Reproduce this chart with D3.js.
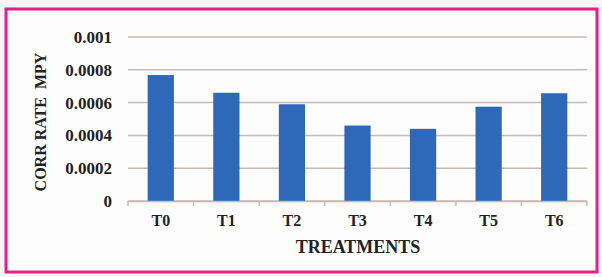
<!DOCTYPE html>
<html>
<head>
<meta charset="utf-8">
<script src="https://cdn.jsdelivr.net/npm/d3@7"></script>
<style>
 body { margin:0; background:#f7f7f7; }
 svg text { font-family: "Liberation Serif", "DejaVu Serif", serif; font-weight:bold; fill:#222; }
</style>
</head>
<body>
<div id="container"></div>
<script>
const treatments = ['T0','T1','T2','T3','T4','T5','T6'];
const corrRate = [0.000768, 0.00066, 0.00059, 0.00046, 0.00044, 0.000575, 0.000657];
const yTicks = [0, 0.0002, 0.0004, 0.0006, 0.0008, 0.001];
const yTickLabels = ['0','0.0002','0.0004','0.0006','0.0008','0.001'];

const width = 602;
const height = 277;
const serif = '"Liberation Serif", "DejaVu Serif", serif';

const svg = d3.select('#container')
  .append('svg')
  .attr('width', width)
  .attr('height', height);

// pink frame
svg.append('rect')
  .attr('x', 6).attr('y', 9)
  .attr('width', 591).attr('height', 263)
  .attr('fill', '#fdfdfd')
  .attr('stroke', '#ec1c8c')
  .attr('stroke-width', 3);

const plotLeft = 128, plotRight = 587, plotTop = 37, plotBottom = 201;

const x = d3.scaleBand()
  .domain(treatments)
  .range([plotLeft, plotRight])
  .paddingInner(0.6)
  .paddingOuter(0.3);

const y = d3.scaleLinear()
  .domain([0, 0.001])
  .range([plotBottom, plotTop]);

// gridlines
svg.append('g')
  .selectAll('line')
  .data(yTicks)
  .enter()
  .append('line')
  .attr('x1', plotLeft).attr('x2', plotRight)
  .attr('y1', d => y(d)).attr('y2', d => y(d))
  .attr('stroke', '#c9b9b3')
  .attr('stroke-width', 1.5);

// bars
svg.append('g')
  .selectAll('rect')
  .data(corrRate)
  .enter()
  .append('rect')
  .attr('x', (d,i) => x(treatments[i]))
  .attr('y', d => y(d))
  .attr('width', x.bandwidth())
  .attr('height', d => plotBottom - y(d))
  .attr('fill', '#2e68b9');

// x axis
const xAxis = svg.append('g')
  .attr('transform', `translate(0,${plotBottom})`)
  .call(d3.axisBottom(x).tickSize(0).tickPadding(14));
xAxis.attr('font-family', serif);
xAxis.select('.domain').attr('stroke', '#c9b9b3').attr('stroke-width', 1.5);
xAxis.selectAll('text').style('font-size', '16px').style('font-family', serif);

// category boundary ticks
const catW = (plotRight - plotLeft) / treatments.length;
svg.append('g')
  .selectAll('line')
  .data(d3.range(treatments.length + 1))
  .enter()
  .append('line')
  .attr('x1', i => plotLeft + i * catW)
  .attr('x2', i => plotLeft + i * catW)
  .attr('y1', plotBottom).attr('y2', plotBottom + 5)
  .attr('stroke', '#c9b9b3')
  .attr('stroke-width', 1.5);

// y axis labels
const yAxis = svg.append('g')
  .attr('transform', `translate(${plotLeft},0)`)
  .call(d3.axisLeft(y).tickValues(yTicks).tickFormat((d,i) => yTickLabels[i]).tickSize(0).tickPadding(16));
yAxis.attr('font-family', serif);
yAxis.select('.domain').remove();
yAxis.selectAll('text').style('font-size', '17px').style('font-family', serif);

// axis titles
svg.append('text')
  .attr('x', 358).attr('y', 253)
  .attr('text-anchor', 'middle')
  .style('font-size', '18px')
  .text('TREATMENTS');

svg.append('text')
  .attr('transform', 'translate(46,122) rotate(-90)')
  .attr('text-anchor', 'middle')
  .style('font-size', '16px')
  .style('white-space', 'pre')
  .text('CORR RATE  MPY');
</script>
</body>
</html>
